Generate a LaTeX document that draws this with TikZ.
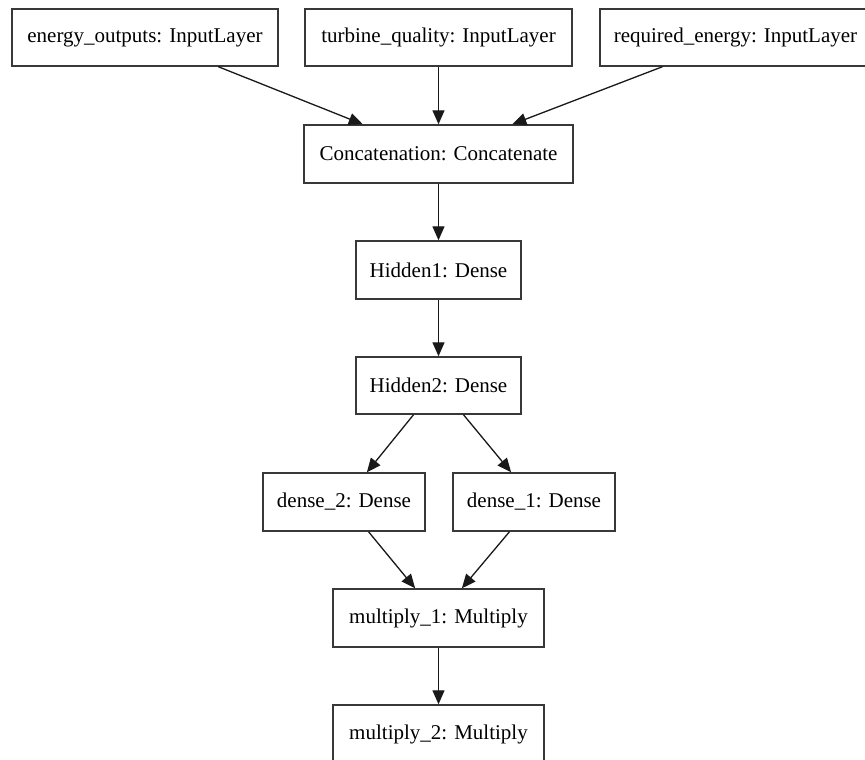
\documentclass[tikz,border=0pt]{standalone}
\usepackage{fontspec}
\setmainfont{Liberation Serif}
\usetikzlibrary{calc,arrows.meta}
\begin{document}
\begin{tikzpicture}[x=1pt,y=-1pt,
  layer/.style={draw=black!78, line width=1.4pt, rectangle, minimum height=57pt,
    inner sep=0pt, font=\fontsize{21}{25}\selectfont, text=black},
  flow/.style={-{Triangle[length=14pt,width=12pt]}, line width=1.3pt, draw=black!90}]
\useasboundingbox (0,0) rectangle (865,760);
\clip (0,0) rectangle (865,760);
\fill[white] (0,0) rectangle (865,760);

% input layers
\node[layer, minimum width=266pt] (eo) at (145,37.5) {energy\_outputs: InputLayer};
\node[layer, minimum width=267pt] (tq) at (438.5,37.5) {turbine\_quality: InputLayer};
\node[layer, minimum width=271pt] (re) at (735.5,37.5) {required\_energy: InputLayer};

% main trunk
\node[layer, minimum width=269pt, minimum height=58pt] (cc) at (438.5,154) {Concatenation: Concatenate};
\node[layer, minimum width=165pt, minimum height=58pt] (h1) at (438.5,270) {Hidden1: Dense};
\node[layer, minimum width=165pt] (h2) at (438.5,385.5) {Hidden2: Dense};

% two branches
\node[layer, minimum width=162pt, minimum height=58pt] (d2) at (344,502) {dense\_2: Dense};
\node[layer, minimum width=162pt, minimum height=58pt] (d1) at (534,502) {dense\_1: Dense};

% merge
\node[layer, minimum width=211pt, minimum height=58pt] (m1) at (438.5,618) {multiply\_1: Multiply};
\node[layer, minimum width=211pt, minimum height=58pt] (m2) at (438.5,734) {multiply\_2: Multiply};

% connectors
\draw[flow] ($(eo.south west)!0.774!(eo.south east)$) -- ($(cc.north west)!0.22!(cc.north east)$);
\draw[flow] (tq.south) -- (cc.north);
\draw[flow] ($(re.south west)!0.232!(re.south east)$) -- ($(cc.north west)!0.773!(cc.north east)$);
\draw[flow] (cc.south) -- (h1.north);
\draw[flow] (h1.south) -- (h2.north);
\draw[flow] ($(h2.south west)!0.35!(h2.south east)$) -- ($(d2.north west)!0.64!(d2.north east)$);
\draw[flow] ($(h2.south west)!0.65!(h2.south east)$) -- ($(d1.north west)!0.36!(d1.north east)$);
\draw[flow] ($(d2.south west)!0.65!(d2.south east)$) -- ($(m1.north west)!0.39!(m1.north east)$);
\draw[flow] ($(d1.south west)!0.35!(d1.south east)$) -- ($(m1.north west)!0.61!(m1.north east)$);
\draw[flow] (m1.south) -- (m2.north);
\end{tikzpicture}
\end{document}
